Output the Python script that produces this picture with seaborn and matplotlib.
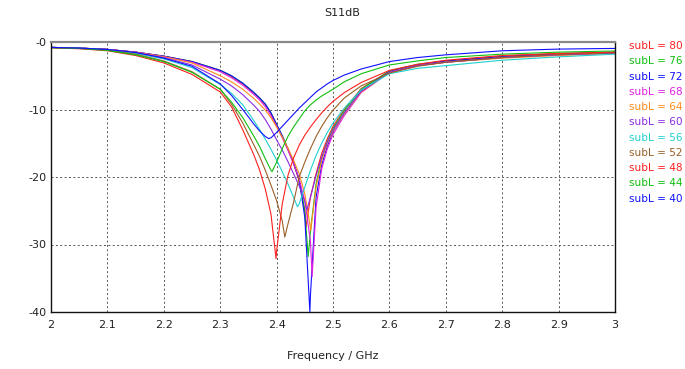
import numpy as np
import pandas as pd
import matplotlib
matplotlib.use("Agg")
import matplotlib.pyplot as plt
import seaborn as sns

# common frequency grid (GHz)
FREQ = [2.0, 2.05, 2.1, 2.15, 2.2, 2.25, 2.3, 2.32, 2.34, 2.36, 2.37, 2.38, 2.39, 2.40,
        2.41, 2.42, 2.43, 2.44, 2.45, 2.46, 2.47, 2.48, 2.49, 2.5, 2.52, 2.55, 2.6,
        2.65, 2.7, 2.8, 2.9, 3.0]

# S11 in dB
S80 = [-0.8, -0.9, -1.1, -1.5, -2.1, -2.9, -4.2, -5.1, -6.2, -7.6, -8.4, -9.3, -10.6, -12.3,
       -14.0, -15.9, -18.0, -20.6, -25.0, -23.0, -19.5, -16.5, -14.3, -12.5, -10.0, -6.9, -4.3,
       -3.4, -2.8, -2.1, -1.7, -1.5]
S76 = [-0.8, -0.9, -1.1, -1.5, -2.1, -2.9, -4.2, -5.0, -6.1, -7.5, -8.3, -9.2, -10.5, -12.2,
       -13.9, -15.8, -17.9, -20.4, -25.0, -28.0, -21.0, -17.2, -14.7, -12.8, -10.2, -7.0, -4.3,
       -3.3, -2.8, -2.2, -1.8, -1.55]
S72 = [-0.8, -0.9, -1.1, -1.5, -2.1, -2.9, -4.2, -5.0, -6.1, -7.5, -8.3, -9.2, -10.5, -12.2,
       -13.9, -15.8, -17.9, -20.3, -26.0, -37.5, -23.0, -18.2, -15.4, -13.3, -10.6, -7.3, -4.4,
       -3.4, -2.8, -2.2, -1.8, -1.55]
S68 = [-0.8, -0.9, -1.1, -1.5, -2.15, -3.0, -4.4, -5.3, -6.4, -7.8, -8.6, -9.6, -10.9, -12.5,
       -14.2, -16.0, -18.0, -20.3, -23.5, -29.5, -24.5, -18.8, -15.8, -13.7, -10.9, -7.5, -4.5,
       -3.5, -3.0, -2.3, -1.9, -1.65]
S64 = [-0.8, -0.9, -1.1, -1.55, -2.2, -3.1, -5.0, -5.9, -7.0, -8.4, -9.2, -10.1, -11.2, -12.6,
       -14.1, -15.7, -17.5, -19.5, -22.5, -27.5, -21.5, -17.5, -15.0, -13.2, -10.6, -7.4, -4.5,
       -3.5, -3.0, -2.4, -2.0, -1.7]
S60 = [-0.8, -0.9, -1.1, -1.6, -2.3, -3.4, -5.5, -6.5, -7.8, -9.4, -10.3, -11.5, -12.9, -14.5,
       -16.0, -17.7, -19.5, -21.3, -23.6, -23.0, -19.8, -17.0, -14.8, -13.0, -10.5, -7.3, -4.5,
       -3.5, -3.0, -2.3, -1.9, -1.65]
S56 = [-0.8, -0.9, -1.15, -1.7, -2.5, -3.8, -6.3, -7.6, -9.3, -11.7, -13.0, -14.4, -15.9, -17.5,
       -19.2, -21.0, -23.0, -24.0, -21.5, -19.0, -16.8, -15.0, -13.4, -12.0, -9.8, -7.1, -4.7,
       -3.9, -3.5, -2.7, -2.2, -1.8]
S52 = [-0.85, -0.95, -1.2, -1.8, -2.8, -4.4, -7.0, -9.2, -12.0, -15.3, -17.0, -19.0, -21.2, -23.5,
       -26.5, -27.0, -23.8, -20.0, -17.8, -15.8, -14.0, -12.5, -11.2, -10.1, -8.3, -6.5, -4.6,
       -3.6, -3.0, -2.3, -1.85, -1.6]
S48 = [-0.85, -1.0, -1.3, -2.0, -3.1, -4.8, -7.4, -9.6, -13.0, -16.8, -19.0, -21.8, -25.5, -31.0,
       -24.0, -19.8, -17.2, -15.3, -13.8, -12.6, -11.5, -10.5, -9.6, -8.8, -7.5, -6.0, -4.2,
       -3.3, -2.7, -2.0, -1.7, -1.5]
S44 = [-0.85, -0.95, -1.25, -1.9, -2.9, -4.5, -7.0, -8.9, -11.2, -14.0, -15.5, -17.3, -19.0, -17.8,
       -15.8, -14.0, -12.6, -11.4, -10.2, -9.3, -8.6, -8.0, -7.5, -7.0, -5.9, -4.7, -3.4,
       -2.8, -2.3, -1.8, -1.5, -1.33]
S40 = [-0.8, -0.9, -1.1, -1.55, -2.4, -3.6, -6.2, -7.9, -10.0, -12.2, -13.2, -14.0, -14.2, -13.4,
       -12.5, -11.6, -10.7, -9.8, -9.0, -8.2, -7.4, -6.8, -6.2, -5.7, -4.9, -4.0, -2.9,
       -2.3, -1.9, -1.3, -1.05, -0.95]

# resonance minimum of each curve (frequency, dB)
SUBL = [80, 76, 72, 68, 64, 60, 56, 52, 48, 44, 40]
DIP_F = [2.452, 2.456, 2.459, 2.463, 2.4605, 2.4535, 2.437, 2.4145, 2.399, 2.392, 2.386]
DIP_DB = [-27.5, -31.8, -40.0, -34.8, -27.9, -24.9, -24.4, -28.9, -32.1, -19.2, -14.3]
SERIES = [S80, S76, S72, S68, S64, S60, S56, S52, S48, S44, S40]
COLORS = ['#ff2020', '#10c010', '#1010ff', '#e020e0', '#ff8c1a', '#8a2be2',
          '#20d0d0', '#9a6028', '#ff2020', '#10c010', '#1010ff']

LABELS = ['subL = %d' % s for s in SUBL]

frames = []
for lab, vals, fd, dd in zip(LABELS, SERIES, DIP_F, DIP_DB):
    d = pd.DataFrame({'f': FREQ + [fd], 'dB': vals + [dd]})
    d['subL'] = lab
    frames.append(d.sort_values('f'))
data = pd.concat(frames, ignore_index=True)

sns.set_style("white")
plt.rcParams['font.family'] = ['DejaVu Sans']

fig = plt.figure(figsize=(6.85, 3.69), dpi=100)
ax = fig.add_axes([51 / 685, 1 - 312 / 369, 564 / 685, 270 / 369])

sns.lineplot(data=data, x='f', y='dB', hue='subL', hue_order=LABELS,
             palette=COLORS, estimator=None, sort=True, linewidth=0.8, ax=ax)

ax.set_xlim(2, 3)
ax.set_ylim(-40, 0)
ax.set_xticks([2, 2.1, 2.2, 2.3, 2.4, 2.5, 2.6, 2.7, 2.8, 2.9, 3])
ax.set_xticklabels(['2', '2.1', '2.2', '2.3', '2.4', '2.5', '2.6', '2.7', '2.8', '2.9', '3'])
ax.set_yticks([-40, -30, -20, -10, 0])
ax.set_yticklabels(['-40', '-30', '-20', '-10', '-0'])
ax.tick_params(axis='x', direction='out', length=4, width=0.8, pad=2, labelsize=8, colors='#222222')
ax.tick_params(axis='y', direction='out', length=2, width=0.8, pad=1, labelsize=8, colors='#222222')
ax.grid(True, color='#555555', linestyle=(0, (2, 2.5)), linewidth=0.7)

for s in ['left', 'bottom', 'right']:
    ax.spines[s].set_color('#111111')
    ax.spines[s].set_linewidth(1.0)
ax.spines['top'].set_color('#8a8a8a')
ax.spines['top'].set_linewidth(1.6)

ax.set_xlabel('Frequency / GHz', fontsize=8, labelpad=15, color='#222222')
ax.set_ylabel('')
fig.text(0.5, 1 - 13 / 369, 'S11dB', ha='center', va='center', fontsize=8, color='#222222')

handles, labels = ax.get_legend_handles_labels()
leg = ax.legend(handles, labels, loc='upper left', bbox_to_anchor=(629 / 685, 1 - 41 / 369),
                bbox_transform=fig.transFigure, frameon=False, handlelength=0,
                handletextpad=0, borderpad=0, borderaxespad=0, labelspacing=0.5,
                fontsize=7.6)
for h, t in zip(leg.legend_handles, leg.get_texts()):
    t.set_color(h.get_color())
    h.set_visible(False)

fig.savefig('out.png', dpi=100)
